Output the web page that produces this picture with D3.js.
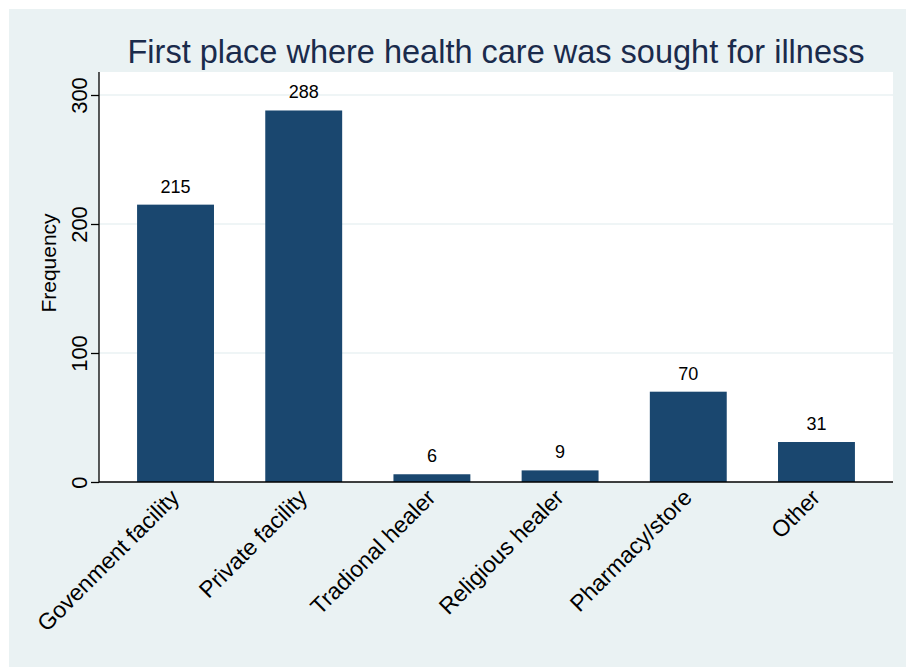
<!DOCTYPE html>
<html>
<head>
<meta charset="utf-8">
<script src="https://cdn.jsdelivr.net/npm/d3@7"></script>
<style>
  body { margin: 0; background: #fff; }
  svg { display: block; font-family: Arial, "Liberation Sans", sans-serif; }
</style>
</head>
<body>
<script>
var categories = ["Govenment facility", "Private facility", "Tradional healer", "Religious healer", "Pharmacy/store", "Other"];
var frequencies = [215, 288, 6, 9, 70, 31];
var yTicks = [0, 100, 200, 300];
var title = "First place where health care was sought for illness";

var width = 906, height = 667;
var plot = { left: 99, right: 893, top: 72, bottom: 482 };

var svg = d3.select("body").append("svg")
  .attr("width", width)
  .attr("height", height);

// fond gris-bleu façon Stata
svg.append("rect")
  .attr("x", 9).attr("y", 9)
  .attr("width", width - 9).attr("height", height - 9)
  .attr("fill", "#eaf2f3");

svg.append("rect")
  .attr("x", plot.left).attr("y", plot.top)
  .attr("width", plot.right - plot.left).attr("height", plot.bottom - plot.top)
  .attr("fill", "#fff");

var x = d3.scaleBand()
  .domain(categories)
  .range([plot.left, plot.right])
  .paddingInner(0.4)
  .paddingOuter(0.297);

var y = d3.scaleLinear()
  .domain([0, 300])
  .range([plot.bottom, plot.bottom - 387]);

// grille
svg.append("g")
  .selectAll("line")
  .data(yTicks.filter((d) => d > 0))
  .join("line")
  .attr("x1", plot.left).attr("x2", plot.right)
  .attr("y1", (d) => y(d)).attr("y2", (d) => y(d))
  .attr("stroke", "#eaf2f3")
  .attr("stroke-width", 1.5);

var data = categories.map((c, i) => ({ cat: c, value: frequencies[i] }));

svg.append("g")
  .attr("fill", "#1a476f")
  .selectAll("rect")
  .data(data)
  .join("rect")
  .attr("x", (d) => x(d.cat))
  .attr("width", x.bandwidth())
  .attr("y", (d) => y(d.value))
  .attr("height", (d) => y(0) - y(d.value));

svg.append("g")
  .attr("font-size", 18)
  .attr("fill", "#000")
  .attr("text-anchor", "middle")
  .selectAll("text")
  .data(data)
  .join("text")
  .attr("x", (d) => x(d.cat) + x.bandwidth() / 2)
  .attr("y", (d) => y(d.value) - 12)
  .text((d) => d.value);

// axe Y
var yAxis = svg.append("g")
  .attr("transform", `translate(${plot.left},0)`)
  .call(d3.axisLeft(y).tickValues(yTicks).tickSize(8).tickPadding(0));
yAxis.select(".domain").attr("d", `M0,${plot.top}V${plot.bottom}`).attr("stroke", "#000").attr("stroke-width", 1.3);
yAxis.selectAll(".tick line").attr("stroke", "#000").attr("stroke-width", 1.3);
yAxis.selectAll(".tick text")
  .attr("font-size", 22)
  .attr("fill", "#000")
  .attr("text-anchor", "middle")
  .attr("x", null).attr("dy", null)
  .attr("transform", "translate(-12,0) rotate(-90)");

svg.append("text")
  .attr("transform", "translate(56,263) rotate(-90)")
  .attr("text-anchor", "middle")
  .attr("font-size", 21)
  .attr("fill", "#000")
  .text("Frequency");

// axe X
var xAxis = svg.append("g")
  .attr("transform", `translate(0,${plot.bottom})`)
  .call(d3.axisBottom(x).tickSize(0).tickPadding(0));
xAxis.select(".domain").attr("d", `M${plot.left},0H${plot.right}`).attr("stroke", "#000").attr("stroke-width", 1.3);
xAxis.selectAll(".tick text")
  .attr("font-size", 23)
  .attr("fill", "#000")
  .attr("text-anchor", "end")
  .attr("y", null).attr("dy", null)
  .attr("transform", "translate(5,17) rotate(-45)");

svg.append("text")
  .attr("x", (plot.left + plot.right) / 2)
  .attr("y", 63)
  .attr("text-anchor", "middle")
  .attr("font-size", 32.5)
  .attr("fill", "#1a2b4c")
  .text(title);
</script>
</body>
</html>
